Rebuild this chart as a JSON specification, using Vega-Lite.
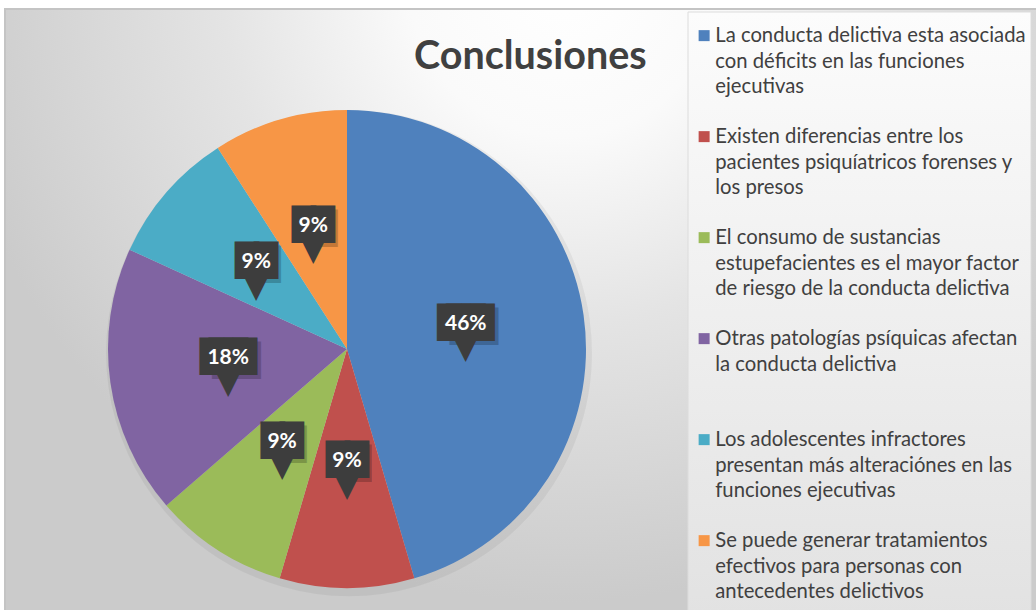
{
  "$schema": "https://vega.github.io/schema/vega-lite/v6.json",
  "width": 1036,
  "height": 610,
  "padding": 0,
  "autosize": {"type": "none"},
  "background": "#ffffff",
  "config": {"view": {"stroke": null}},
  "title": {
    "text": "Conclusiones",
    "orient": "top",
    "anchor": "start",
    "frame": "group",
    "dx": 414,
    "offset": -108,
    "baseline": "alphabetic",
    "font": "Lato",
    "fontSize": 39.5,
    "fontWeight": "bold",
    "color": "#404040"
  },
  "data": {
    "values": [
      {"conclusion": "La conducta delictiva esta asociada con déficits en las funciones ejecutivas", "n": 5, "pct": "46%", "orden": 1},
      {"conclusion": "Existen diferencias entre los pacientes psiquíatricos forenses y los presos", "n": 1, "pct": "9%", "orden": 2},
      {"conclusion": "El consumo de sustancias estupefacientes es el mayor factor de riesgo de la conducta delictiva", "n": 1, "pct": "9%", "orden": 3},
      {"conclusion": "Otras patologías psíquicas afectan la conducta delictiva", "n": 2, "pct": "18%", "orden": 4},
      {"conclusion": "Los adolescentes infractores presentan más alteraciónes en las funciones ejecutivas", "n": 1, "pct": "9%", "orden": 5},
      {"conclusion": "Se puede generar tratamientos efectivos para personas con antecedentes delictivos", "n": 1, "pct": "9%", "orden": 6}
    ]
  },
  "layer": [
    {
      "data": {"values": [{}]},
      "mark": {
        "type": "rect",
        "fill": {
          "gradient": "radial",
          "x1": 0.54, "y1": 0.18, "r1": 0,
          "x2": 0.54, "y2": 0.18, "r2": 0.6,
          "stops": [
            {"offset": 0, "color": "#ffffff"},
            {"offset": 0.25, "color": "#fafafa"},
            {"offset": 0.55, "color": "#e4e4e4"},
            {"offset": 1, "color": "#cbcbcb"}
          ]
        },
        "stroke": "#c4c4c4",
        "strokeWidth": 2
      },
      "encoding": {"x": {"value": 5}, "y": {"value": 9}, "x2": {"value": 1040}, "y2": {"value": 616}}
    },
    {
      "data": {"values": [{}]},
      "mark": {
        "type": "rect",
        "fill": {
          "gradient": "linear",
          "x1": 0, "y1": 0, "x2": 0, "y2": 1,
          "stops": [
            {"offset": 0, "color": "#fcfcfc"},
            {"offset": 1, "color": "#e2e2e2"}
          ]
        },
        "stroke": "#dcdcdc",
        "strokeWidth": 1
      },
      "encoding": {"x": {"value": 688}, "y": {"value": 12}, "x2": {"value": 1031}, "y2": {"value": 616}}
    },
    {
      "mark": {"type": "arc", "x": 349, "y": 353, "outerRadius": 243, "color": "#000000", "opacity": 0.05},
      "encoding": {
        "theta": {"field": "n", "type": "quantitative", "stack": true},
        "order": {"field": "orden", "type": "quantitative"}
      }
    },
    {
      "mark": {"type": "arc", "x": 347, "y": 349, "outerRadius": 239},
      "encoding": {
        "theta": {"field": "n", "type": "quantitative", "stack": true},
        "order": {"field": "orden", "type": "quantitative"},
        "color": {
          "field": "conclusion",
          "type": "nominal",
          "sort": null,
          "scale": {
            "domain": [
              "La conducta delictiva esta asociada con déficits en las funciones ejecutivas",
              "Existen diferencias entre los pacientes psiquíatricos forenses y los presos",
              "El consumo de sustancias estupefacientes es el mayor factor de riesgo de la conducta delictiva",
              "Otras patologías psíquicas afectan la conducta delictiva",
              "Los adolescentes infractores presentan más alteraciónes en las funciones ejecutivas",
              "Se puede generar tratamientos efectivos para personas con antecedentes delictivos"
            ],
            "range": ["#4f81bd", "#c0504d", "#9bbb59", "#8064a2", "#4bacc6", "#f79646"]
          },
          "legend": {
            "title": null,
            "orient": "none",
            "legendX": 694,
            "legendY": 16,
            "padding": 0,
            "symbolType": "M-1,0.73L1,0.73L1,2.73L-1,2.73Z",
            "symbolSize": 121,
            "symbolStrokeWidth": 0,
            "labelFont": "Lato",
            "labelFontSize": 20.25,
            "labelColor": "#404040",
            "labelLimit": 600,
            "labelOffset": 1,
            "labelBaseline": "top",
            "rowPadding": 19,
            "encode": {"labels": {"update": {"lineHeight": {"value": 25.5}}}},
            "labelExpr": "datum.label == 'La conducta delictiva esta asociada con déficits en las funciones ejecutivas' ? ['La conducta delictiva esta asociada', 'con déficits en las funciones', 'ejecutivas'] : datum.label == 'Existen diferencias entre los pacientes psiquíatricos forenses y los presos' ? ['Existen diferencias entre los', 'pacientes psiquíatricos forenses y', 'los presos'] : datum.label == 'El consumo de sustancias estupefacientes es el mayor factor de riesgo de la conducta delictiva' ? ['El consumo de sustancias', 'estupefacientes es el mayor factor', 'de riesgo de la conducta delictiva'] : datum.label == 'Otras patologías psíquicas afectan la conducta delictiva' ? ['Otras patologías psíquicas afectan', 'la conducta delictiva', ' '] : datum.label == 'Los adolescentes infractores presentan más alteraciónes en las funciones ejecutivas' ? ['Los adolescentes infractores', 'presentan más alteraciónes en las', 'funciones ejecutivas'] : ['Se puede generar tratamientos', 'efectivos para personas con', 'antecedentes delictivos']"
          }
        }
      }
    },
    {
      "mark": {"type": "text", "x": 347, "y": 349, "radius": 120, "dx": 8, "dy": -4, "font": "DejaVu Sans", "fontSize": 31.5, "baseline": "middle", "align": "center", "color": "#000000", "opacity": 0.2},
      "encoding": {
        "theta": {"field": "n", "type": "quantitative", "stack": true},
        "order": {"field": "orden", "type": "quantitative"},
        "text": {"condition": {"test": "datum.n >= 2", "value": "██"}, "value": ""}
      }
    },
    {
      "mark": {"type": "text", "x": 347, "y": 349, "radius": 120, "dx": 12, "dy": -4, "font": "DejaVu Sans", "fontSize": 31.5, "baseline": "middle", "align": "center", "color": "#000000", "opacity": 0.2},
      "encoding": {
        "theta": {"field": "n", "type": "quantitative", "stack": true},
        "order": {"field": "orden", "type": "quantitative"},
        "text": {"condition": {"test": "datum.n < 2", "value": "█"}, "value": ""}
      }
    },
    {
      "mark": {"type": "text", "x": 347, "y": 349, "radius": 120, "dx": -4.5, "dy": -8, "font": "DejaVu Sans", "fontSize": 31.5, "baseline": "middle", "align": "center", "color": "#3d3d3d"},
      "encoding": {
        "theta": {"field": "n", "type": "quantitative", "stack": true},
        "order": {"field": "orden", "type": "quantitative"},
        "text": {"condition": {"test": "datum.n >= 2", "value": "██"}, "value": ""}
      }
    },
    {
      "mark": {"type": "text", "x": 347, "y": 349, "radius": 120, "dx": 4.5, "dy": -8, "font": "DejaVu Sans", "fontSize": 31.5, "baseline": "middle", "align": "center", "color": "#3d3d3d"},
      "encoding": {
        "theta": {"field": "n", "type": "quantitative", "stack": true},
        "order": {"field": "orden", "type": "quantitative"},
        "text": {"condition": {"test": "datum.n >= 2", "value": "██"}, "value": ""}
      }
    },
    {
      "mark": {"type": "text", "x": 347, "y": 349, "radius": 120, "dx": -9.5, "dy": -8, "font": "DejaVu Sans", "fontSize": 31.5, "baseline": "middle", "align": "center", "color": "#3d3d3d"},
      "encoding": {
        "theta": {"field": "n", "type": "quantitative", "stack": true},
        "order": {"field": "orden", "type": "quantitative"},
        "text": {"condition": {"test": "datum.n < 2", "value": "█"}, "value": ""}
      }
    },
    {
      "mark": {"type": "text", "x": 347, "y": 349, "radius": 120, "dx": 9.5, "dy": -8, "font": "DejaVu Sans", "fontSize": 31.5, "baseline": "middle", "align": "center", "color": "#3d3d3d"},
      "encoding": {
        "theta": {"field": "n", "type": "quantitative", "stack": true},
        "order": {"field": "orden", "type": "quantitative"},
        "text": {"condition": {"test": "datum.n < 2", "value": "█"}, "value": ""}
      }
    },
    {
      "mark": {"type": "text", "x": 347, "y": 349, "radius": 120, "dy": 16.5, "font": "DejaVu Sans", "fontSize": 33, "baseline": "middle", "align": "center", "color": "#3d3d3d"},
      "encoding": {
        "theta": {"field": "n", "type": "quantitative", "stack": true},
        "order": {"field": "orden", "type": "quantitative"},
        "text": {"value": "▼"}
      }
    },
    {
      "mark": {"type": "text", "x": 347, "y": 349, "radius": 120, "dy": -8, "font": "Lato", "fontSize": 21, "fontWeight": "bold", "baseline": "middle", "align": "center", "color": "#ffffff"},
      "encoding": {
        "theta": {"field": "n", "type": "quantitative", "stack": true},
        "order": {"field": "orden", "type": "quantitative"},
        "text": {"field": "pct", "type": "nominal"}
      }
    }
  ]
}
